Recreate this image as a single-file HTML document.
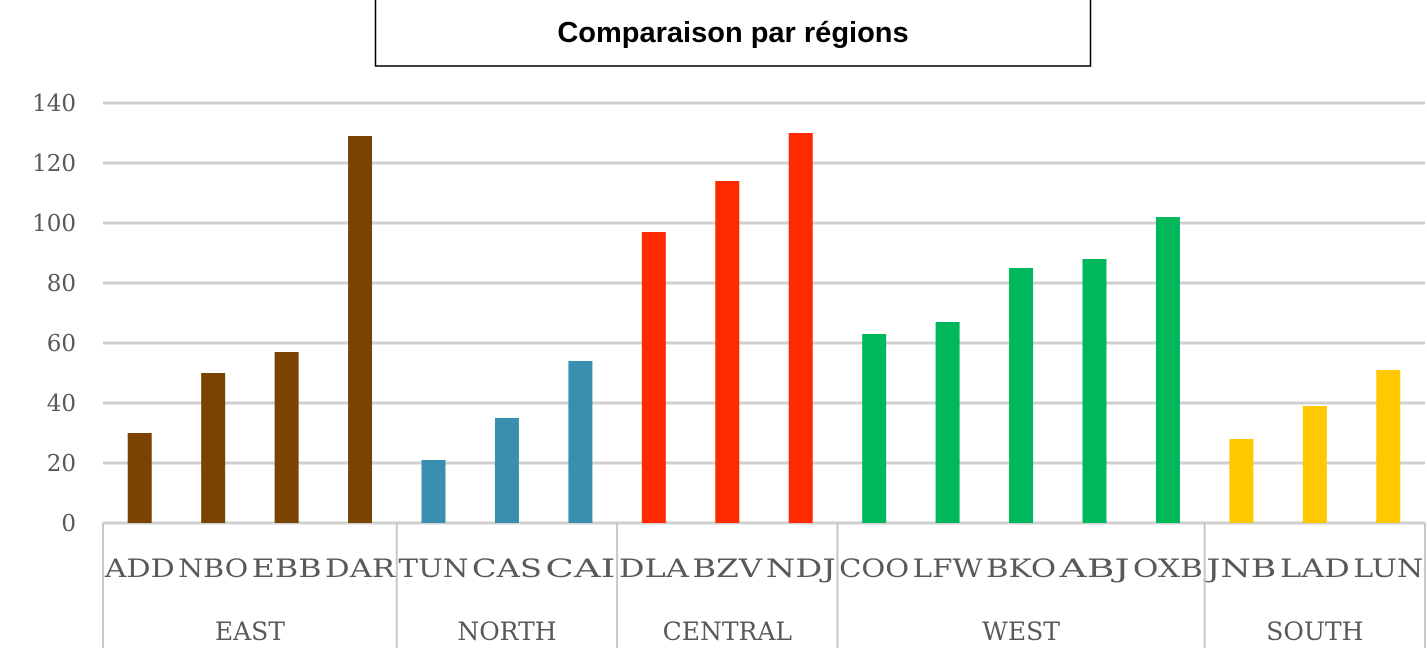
<!DOCTYPE html>
<html><head><meta charset="utf-8"><style>
html,body{margin:0;padding:0;background:#fff;width:1427px;height:665px;overflow:hidden}
svg text{font-family:"DejaVu Serif","Liberation Serif",serif;fill:#595959}
</style></head><body>
<svg id="chart" width="1427" height="665" xmlns="http://www.w3.org/2000/svg">
<rect x="375.5" y="-1" width="715" height="67" fill="#fff" stroke="#000" stroke-width="1.5"/>
<text x="733" y="42" text-anchor="middle" style="font-family:'Liberation Sans',sans-serif;font-weight:bold;font-size:29px;fill:#000">Comparaison par régions</text>
<g id="grid"></g><g id="bars"></g><g id="axis"></g>
</svg>
<script>
const categories=["ADD","NBO","EBB","DAR","TUN","CAS","CAI","DLA","BZV","NDJ","COO","LFW","BKO","ABJ","OXB","JNB","LAD","LUN"];
const values=[30,50,57,129,21,35,54,97,114,130,63,67,85,88,102,28,39,51];
const groups=["EAST","NORTH","CENTRAL","WEST","SOUTH"];
const groupSizes=[4,3,3,5,3];
const groupColors=["#7b4300","#3a8fb0","#ff2a00","#00b85c","#ffc800"];
const yTicks=[0,20,40,60,80,100,120,140];
const ns="http://www.w3.org/2000/svg";
const X0=103,X1=1425,Y0=523,Y140=103;
const step=(X1-X0)/categories.length;
const y=v=>Y0-(v/140)*(Y0-Y140);
const xc=i=>X0+step*(i+0.5);
function mk(t,a,p){const e=document.createElementNS(ns,t);for(const k in a)e.setAttribute(k,a[k]);document.getElementById(p).appendChild(e);return e;}
yTicks.forEach(t=>{
 const l=mk("line",{x1:X0,x2:X1,y1:y(t),y2:y(t),stroke:"#d0d0d0","stroke-width":3},"grid");
 
 
 const tx=mk("text",{x:76,y:y(t)+8,"text-anchor":"end","font-size":23},"axis");
 tx.textContent=t;
 
 
});
let gi=0,cnt=0,start=0;
const colorOf=[];
groupSizes.forEach((s,g)=>{for(let k=0;k<s;k++)colorOf.push(groupColors[g]);});
categories.forEach((c,i)=>{
 const b=mk("rect",{x:xc(i)-12,y:y(values[i]),width:24,height:Y0-y(values[i]),fill:colorOf[i]},"bars");
 
 
 const t=mk("text",{x:xc(i),y:577,"text-anchor":"middle","font-size":25,"textLength":70,"lengthAdjust":"spacingAndGlyphs"},"axis");
 t.textContent=c;
 
 
});
let idx=0;
const v0=mk("line",{x1:X0,x2:X0,y1:Y0,y2:648,stroke:"#c8c8c8","stroke-width":2},"axis");


groups.forEach((g,k)=>{
 const a=X0+idx*step;idx+=groupSizes[k];const bx=X0+idx*step;
 const l=mk("line",{x1:bx,x2:bx,y1:Y0,y2:648,stroke:"#c8c8c8","stroke-width":2},"axis");
 
 
 const t=mk("text",{x:(a+bx)/2,y:640,"text-anchor":"middle","font-size":25},"axis");
 t.textContent=g;
 
 
});
</script>
</body></html>
